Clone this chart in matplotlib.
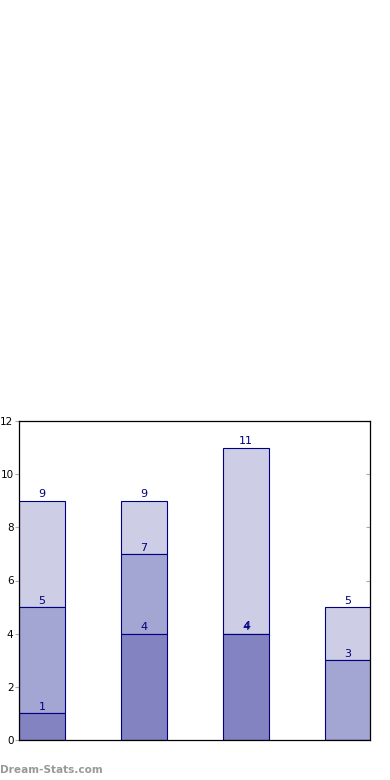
import matplotlib
matplotlib.use("Agg")
import matplotlib.pyplot as plt

# cumulative stacked values (tops of each segment)
positions = [0, 1, 2, 3]
seg1 = [1, 4, 4, 0]      # dark
seg2 = [5, 7, 4, 3]      # medium (cumulative)
seg3 = [9, 9, 11, 5]     # light (cumulative)
show1 = [True, True, True, False]
yticks = [0, 2, 4, 6, 8, 10, 12]

c_dark = "#8383c2"
c_med = "#a3a5d3"
c_light = "#cdcde6"
edge = "#000080"

fig = plt.figure(figsize=(3.9, 7.8), dpi=100)
ax = fig.add_axes([19/390, 40/780, 351/390, 319/780])

w = 0.45
b1 = seg1
b2 = [s2 - s1 for s1, s2 in zip(seg1, seg2)]
b3 = [s3 - s2 for s2, s3 in zip(seg2, seg3)]
ax.bar(positions, b3, width=w, bottom=seg2, align="edge", color=c_light, edgecolor=edge, linewidth=0.8, zorder=2)
ax.bar(positions, b2, width=w, bottom=seg1, align="edge", color=c_med, edgecolor=edge, linewidth=0.8, zorder=2)
ax.bar(positions, b1, width=w, align="edge", color=c_dark, edgecolor=edge, linewidth=0.8, zorder=2)

for i, p in enumerate(positions):
    xc = p + w / 2
    if show1[i]:
        ax.text(xc, seg1[i] + 0.05, str(seg1[i]), ha="center", va="bottom", fontsize=8, color=edge, zorder=3)
    ax.text(xc + (0.01 if seg2[i] == seg1[i] else 0), seg2[i] + 0.05 + (0.06 if seg2[i] == seg1[i] else 0),
            str(seg2[i]), ha="center", va="bottom", fontsize=8, color=edge, zorder=3)
    ax.text(xc, seg3[i] + 0.05, str(seg3[i]), ha="center", va="bottom", fontsize=8, color=edge, zorder=3)

ax.set_xlim(0, 3.44)
ax.set_ylim(0, 12)
ax.set_yticks(yticks)
ax.set_xticks([])
ax.tick_params(axis="y", which="both", left=True, right=True, direction="out", length=3,
               color="#aaaaaa", labelsize=7.5, pad=1)
ax.yaxis.set_ticks_position("both")
for t in ax.yaxis.get_major_ticks():
    t.tick2line.set_marker(matplotlib.lines.TICKLEFT)
for s in ax.spines.values():
    s.set_linewidth(0.9)

fig.text(0.0, 10/780, "Dream-Stats.com", fontsize=7.6, color="#999999", fontweight="bold", ha="left", va="center")

fig.savefig("out.png", dpi=100)
